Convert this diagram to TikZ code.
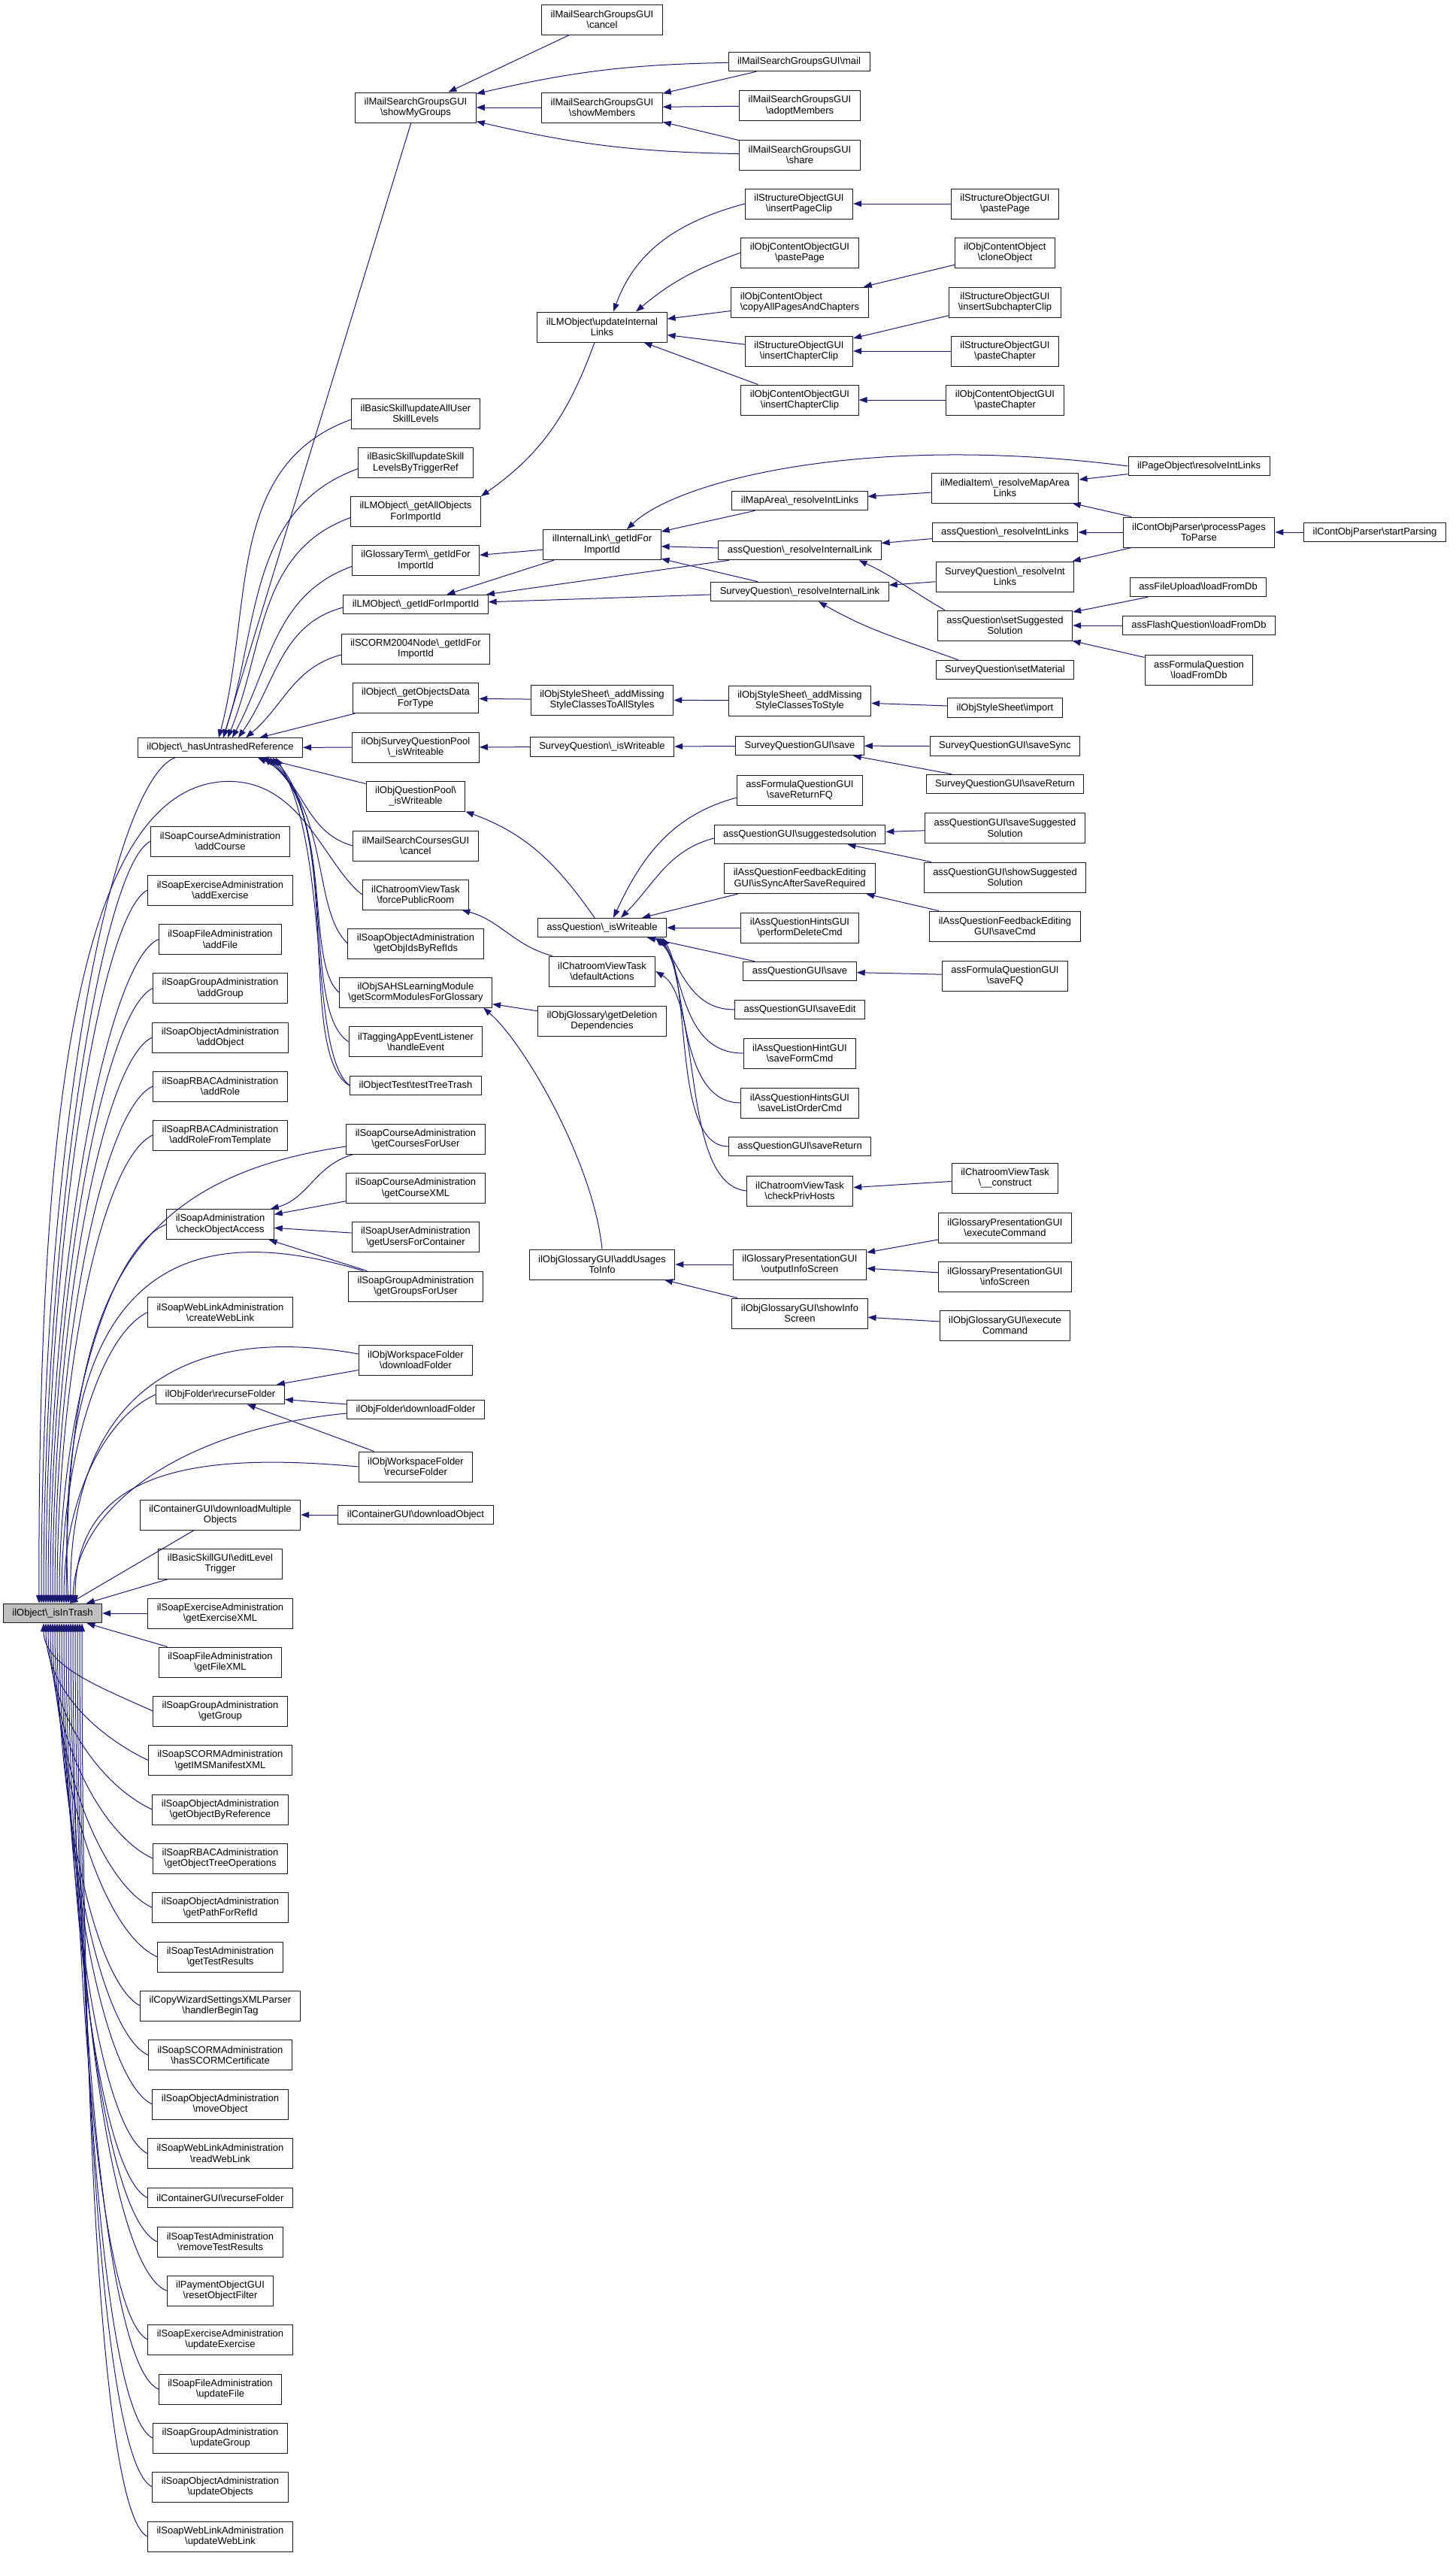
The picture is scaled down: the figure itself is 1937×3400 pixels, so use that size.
\documentclass[tikz,border=0pt]{standalone}
\usepackage{fontspec}
\setmainfont{Liberation Sans}
\usetikzlibrary{arrows.meta}
\definecolor{edgeblue}{HTML}{191970}
\definecolor{rootgray}{HTML}{BFBFBF}
\newcommand\bsl{\textbackslash}
\newcommand\nodefont{\fontsize{13}{14.5}\selectfont}
\newcommand\RootUp[4]{\draw[edge] ([xshift=#4pt]root.north) .. controls ({70+#4},{#3+0.5*(2133-#3)}) and ({#2-0.5*(#2-70)},{#3+30}) .. (#1.west);}
\newcommand\RootDown[4]{\draw[edge] ([xshift=#4pt]root.south) .. controls ({70+#4},{#3-0.5*(#3-2158)}) and ({#2-0.5*(#2-70)},{#3-30}) .. (#1.west);}
\tikzset{
  nb/.style={draw=black!90, line width=1pt, fill=white, align=center, inner xsep=12pt, inner ysep=2pt, font=\nodefont},
  n1/.style={nb, minimum height=25.5pt},
  n2/.style={nb, minimum height=40pt},
  edge/.style={draw=edgeblue, line width=1pt, {Triangle[length=11pt,width=8pt]}-},
}
\begin{document}
\begin{tikzpicture}[x=1pt,y=-1pt]
\useasboundingbox (0,0) rectangle (1937,3400);
% ---- column A
\node[n1, fill=rootgray] (root) at (70,2146) {ilObject\bsl\_isInTrash};
% ---- column B
\node[n1] (hu) at (293,994.5) {ilObject\bsl\_hasUntrashedReference};
\node[n2] (addCourse) at (293,1119) {ilSoapCourseAdministration\\\bsl addCourse};
\node[n2] (addExercise) at (293,1184) {ilSoapExerciseAdministration\\\bsl addExercise};
\node[n2] (addFile) at (293,1249.5) {ilSoapFileAdministration\\\bsl addFile};
\node[n2] (addGroup) at (293,1314.6) {ilSoapGroupAdministration\\\bsl addGroup};
\node[n2] (addObject) at (293,1380) {ilSoapObjectAdministration\\\bsl addObject};
\node[n2] (addRole) at (293,1445) {ilSoapRBACAdministration\\\bsl addRole};
\node[n2] (addRoleT) at (293,1510) {ilSoapRBACAdministration\\\bsl addRoleFromTemplate};
\node[n2] (coa) at (293,1628.6) {ilSoapAdministration\\\bsl checkObjectAccess};
\node[n2] (cwl) at (293,1745.7) {ilSoapWebLinkAdministration\\\bsl createWebLink};
\node[n1] (ofr) at (293,1855) {ilObjFolder\bsl recurseFolder};
\node[n2] (dmo) at (293,2015) {ilContainerGUI\bsl downloadMultiple\\Objects};
\node[n2] (elt) at (293,2080) {ilBasicSkillGUI\bsl editLevel\\Trigger};
\node[n2] (gex) at (293,2146) {ilSoapExerciseAdministration\\\bsl getExerciseXML};
\node[n2] (gfx) at (293,2211) {ilSoapFileAdministration\\\bsl getFileXML};
\node[n2] (ggr) at (293,2276) {ilSoapGroupAdministration\\\bsl getGroup};
\node[n2] (gims) at (293,2341.5) {ilSoapSCORMAdministration\\\bsl getIMSManifestXML};
\node[n2] (gobr) at (293,2407) {ilSoapObjectAdministration\\\bsl getObjectByReference};
\node[n2] (gotop) at (293,2472) {ilSoapRBACAdministration\\\bsl getObjectTreeOperations};
\node[n2] (gpfr) at (293,2537.5) {ilSoapObjectAdministration\\\bsl getPathForRefId};
\node[n2] (gtr) at (293,2603) {ilSoapTestAdministration\\\bsl getTestResults};
\node[n2] (hbt) at (293,2668) {ilCopyWizardSettingsXMLParser\\\bsl handlerBeginTag};
\node[n2] (hsc) at (293,2733.7) {ilSoapSCORMAdministration\\\bsl hasSCORMCertificate};
\node[n2] (mvo) at (293,2799) {ilSoapObjectAdministration\\\bsl moveObject};
\node[n2] (rwl) at (293,2864.5) {ilSoapWebLinkAdministration\\\bsl readWebLink};
\node[n1] (cgrf) at (293,2923.4) {ilContainerGUI\bsl recurseFolder};
\node[n2] (rtr) at (293,2982) {ilSoapTestAdministration\\\bsl removeTestResults};
\node[n2] (rof) at (293,3047) {ilPaymentObjectGUI\\\bsl resetObjectFilter};
\node[n2] (uex) at (293,3112) {ilSoapExerciseAdministration\\\bsl updateExercise};
\node[n2] (ufi) at (293,3178) {ilSoapFileAdministration\\\bsl updateFile};
\node[n2] (ugr) at (293,3243) {ilSoapGroupAdministration\\\bsl updateGroup};
\node[n2] (uob) at (293,3308) {ilSoapObjectAdministration\\\bsl updateObjects};
\node[n2] (uwl) at (293,3374) {ilSoapWebLinkAdministration\\\bsl updateWebLink};
% ---- column C
\node[n2] (smg) at (553,143) {ilMailSearchGroupsGUI\\\bsl showMyGroups};
\node[n2] (uausl) at (553,550) {ilBasicSkill\bsl updateAllUser\\SkillLevels};
\node[n2] (uslt) at (553,615.5) {ilBasicSkill\bsl updateSkill\\LevelsByTriggerRef};
\node[n2] (gaofi) at (553,680.6) {ilLMObject\bsl\_getAllObjects\\ForImportId};
\node[n2] (gtid) at (553,745.5) {ilGlossaryTerm\bsl\_getIdFor\\ImportId};
\node[n1] (lmid) at (553,804) {ilLMObject\bsl\_getIdForImportId};
\node[n2] (scid) at (553,863) {ilSCORM2004Node\bsl\_getIdFor\\ImportId};
\node[n2] (godt) at (553,928.6) {ilObject\bsl\_getObjectsData\\ForType};
\node[n2] (osqp) at (553,994) {ilObjSurveyQuestionPool\\\bsl\_isWriteable};
\node[n2] (oqp) at (553,1059) {ilObjQuestionPool\bsl\\\_isWriteable};
\node[n2] (mscc) at (553,1125) {ilMailSearchCoursesGUI\\\bsl cancel};
\node[n2] (fpr) at (553,1190) {ilChatroomViewTask\\\bsl forcePublicRoom};
\node[n2] (goibr) at (553,1255) {ilSoapObjectAdministration\\\bsl getObjIdsByRefIds};
\node[n2] (gsmg) at (553,1320) {ilObjSAHSLearningModule\\\bsl getScormModulesForGlossary};
\node[n2] (tahe) at (553,1385.6) {ilTaggingAppEventListener\\\bsl handleEvent};
\node[n1] (ttt) at (553,1444) {ilObjectTest\bsl testTreeTrash};
\node[n2] (gcfu) at (553,1515) {ilSoapCourseAdministration\\\bsl getCoursesForUser};
\node[n2] (gcx) at (553,1580.6) {ilSoapCourseAdministration\\\bsl getCourseXML};
\node[n2] (gufc) at (553,1645.6) {ilSoapUserAdministration\\\bsl getUsersForContainer};
\node[n2] (ggfu) at (553,1711) {ilSoapGroupAdministration\\\bsl getGroupsForUser};
\node[n2] (wsdf) at (553,1809) {ilObjWorkspaceFolder\\\bsl downloadFolder};
\node[n1] (ofdf) at (553,1875) {ilObjFolder\bsl downloadFolder};
\node[n2] (wsrf) at (553,1951) {ilObjWorkspaceFolder\\\bsl recurseFolder};
\node[n1] (cgdo) at (553,2015) {ilContainerGUI\bsl downloadObject};
% ---- column D
\node[n2] (msgc) at (801,26) {ilMailSearchGroupsGUI\\\bsl cancel};
\node[n2] (smem) at (801,143) {ilMailSearchGroupsGUI\\\bsl showMembers};
\node[n2] (uil) at (801,435) {ilLMObject\bsl updateInternal\\Links};
\node[n2] (ilid) at (801,724.6) {ilInternalLink\bsl\_getIdFor\\ImportId};
\node[n2] (amsas) at (801,931) {ilObjStyleSheet\bsl\_addMissing\\StyleClassesToAllStyles};
\node[n1] (sqiw) at (801,993.5) {SurveyQuestion\bsl\_isWriteable};
\node[n1] (aqiw) at (801,1234) {assQuestion\bsl\_isWriteable};
\node[n2] (cda) at (801,1292) {ilChatroomViewTask\\\bsl defaultActions};
\node[n2] (ogdd) at (801,1358) {ilObjGlossary\bsl getDeletion\\Dependencies};
\node[n2] (auti) at (801,1682) {ilObjGlossaryGUI\bsl addUsages\\ToInfo};
% ---- column E
\node[n1] (mail) at (1063,82) {ilMailSearchGroupsGUI\bsl mail};
\node[n2] (adm) at (1064,140.5) {ilMailSearchGroupsGUI\\\bsl adoptMembers};
\node[n2] (share) at (1064,206) {ilMailSearchGroupsGUI\\\bsl share};
\node[n2] (ipc) at (1063,271) {ilStructureObjectGUI\\\bsl insertPageClip};
\node[n2] (ocopp) at (1064,336) {ilObjContentObjectGUI\\\bsl pastePage};
\node[n2, align=left] (capc) at (1064,402) {ilObjContentObject\\\bsl copyAllPagesAndChapters};
\node[n2] (socc) at (1063,467) {ilStructureObjectGUI\\\bsl insertChapterClip};
\node[n2] (ococc) at (1064,532) {ilObjContentObjectGUI\\\bsl insertChapterClip};
\node[n1] (mari) at (1064,666) {ilMapArea\bsl\_resolveIntLinks};
\node[n1] (aqril) at (1064,732) {assQuestion\bsl\_resolveInternalLink};
\node[n1] (sqril) at (1064,787) {SurveyQuestion\bsl\_resolveInternalLink};
\node[n2] (amss) at (1064,932) {ilObjStyleSheet\bsl\_addMissing\\StyleClassesToStyle};
\node[n1] (sqgs) at (1064,992) {SurveyQuestionGUI\bsl save};
\node[n2] (srfq) at (1064,1051) {assFormulaQuestionGUI\\\bsl saveReturnFQ};
\node[n1] (qss) at (1064,1110) {assQuestionGUI\bsl suggestedsolution};
\node[n2] (issr) at (1064,1168.6) {ilAssQuestionFeedbackEditing\\GUI\bsl isSyncAfterSaveRequired};
\node[n2] (pdc) at (1064,1234) {ilAssQuestionHintsGUI\\\bsl performDeleteCmd};
\node[n1] (qgs) at (1064,1292) {assQuestionGUI\bsl save};
\node[n1] (qse) at (1064,1343) {assQuestionGUI\bsl saveEdit};
\node[n2] (sfc) at (1064,1401) {ilAssQuestionHintGUI\\\bsl saveFormCmd};
\node[n2] (sloc) at (1064,1467) {ilAssQuestionHintsGUI\\\bsl saveListOrderCmd};
\node[n1] (qsr) at (1064,1525) {assQuestionGUI\bsl saveReturn};
\node[n2] (cph) at (1064,1584) {ilChatroomViewTask\\\bsl checkPrivHosts};
\node[n2] (ois) at (1064,1682) {ilGlossaryPresentationGUI\\\bsl outputInfoScreen};
\node[n2] (sis) at (1064,1747) {ilObjGlossaryGUI\bsl showInfo\\Screen};
% ---- column F
\node[n2] (sopp) at (1337,271) {ilStructureObjectGUI\\\bsl pastePage};
\node[n2] (clo) at (1337,336) {ilObjContentObject\\\bsl cloneObject};
\node[n2] (isc) at (1337,402) {ilStructureObjectGUI\\\bsl insertSubchapterClip};
\node[n2] (sopc) at (1337,467) {ilStructureObjectGUI\\\bsl pasteChapter};
\node[n2] (ocopc) at (1337,532) {ilObjContentObjectGUI\\\bsl pasteChapter};
\node[n2] (mirl) at (1337,649) {ilMediaItem\bsl\_resolveMapArea\\Links};
\node[n1] (aqrl) at (1337,708) {assQuestion\bsl\_resolveIntLinks};
\node[n2] (sqrl) at (1337,767) {SurveyQuestion\bsl\_resolveInt\\Links};
\node[n2] (sss) at (1337,832) {assQuestion\bsl setSuggested\\Solution};
\node[n1] (sqsm) at (1337,891) {SurveyQuestion\bsl setMaterial};
\node[n1] (ossi) at (1337,941.7) {ilObjStyleSheet\bsl import};
\node[n1] (sqss) at (1337,992.6) {SurveyQuestionGUI\bsl saveSync};
\node[n1] (sqsr) at (1337,1043) {SurveyQuestionGUI\bsl saveReturn};
\node[n2] (qsss) at (1337,1101.5) {assQuestionGUI\bsl saveSuggested\\Solution};
\node[n2] (qshs) at (1337,1167) {assQuestionGUI\bsl showSuggested\\Solution};
\node[n2] (fsc) at (1337,1232) {ilAssQuestionFeedbackEditing\\GUI\bsl saveCmd};
\node[n2] (sfq) at (1337,1298) {assFormulaQuestionGUI\\\bsl saveFQ};
\node[n2] (cvc) at (1337,1567) {ilChatroomViewTask\\\bsl\_\_construct};
\node[n2] (gpec) at (1337,1633) {ilGlossaryPresentationGUI\\\bsl executeCommand};
\node[n2] (gpis) at (1337,1698) {ilGlossaryPresentationGUI\\\bsl infoScreen};
\node[n2] (ogec) at (1337,1763) {ilObjGlossaryGUI\bsl execute\\Command};
% ---- column G, H
\node[n1] (porl) at (1595,620) {ilPageObject\bsl resolveIntLinks};
\node[n2] (ppp) at (1595,708) {ilContObjParser\bsl processPages\\ToParse};
\node[n1] (fulfd) at (1594,781) {assFileUpload\bsl loadFromDb};
\node[n1] (fqlfd) at (1595,832) {assFlashQuestion\bsl loadFromDb};
\node[n2] (foqlfd) at (1595,891) {assFormulaQuestion\\\bsl loadFromDb};
\node[n1] (sp) at (1829,708) {ilContObjParser\bsl startParsing};

% ================= edges
% root: callers above
\draw[edge] ([xshift=-15pt]root.north) .. controls (55,1500) and (150,1040) .. ([xshift=50pt]hu.south west);
\draw[edge] ([xshift=-18pt]root.north) .. controls (50,1500) and (100,1060) .. (292,1040) .. controls (400,1030) and (430,1150) .. (fpr.west);
\RootUp{addCourse}{202}{1119}{-12}
\RootUp{addExercise}{197}{1184}{-9}
\RootUp{addFile}{212}{1249}{-6}
\RootUp{addGroup}{205}{1315}{-3}
\RootUp{addObject}{203}{1380}{0}
\RootUp{addRole}{203}{1445}{3}
\RootUp{addRoleT}{203}{1510}{6}
\RootUp{coa}{221}{1629}{9}
\RootUp{cwl}{197}{1746}{12}
\RootUp{ofr}{209}{1855}{15}
\draw[edge] ([xshift=18pt]root.north) .. controls (90,1750) and (150,1570) .. ([yshift=-10pt]gcfu.west);
\draw[edge] ([xshift=21pt]root.north) .. controls (70,1680) and (250,1620) .. ([xshift=20pt]ggfu.north west);
\draw[edge] ([xshift=24pt]root.north) .. controls (90,1850) and (250,1760) .. ([yshift=8pt]wsdf.west);
\draw[edge] ([xshift=27pt]root.north) .. controls (100,2000) and (250,1900) .. ([yshift=-5pt]ofdf.west);
\draw[edge] ([xshift=30pt]root.north) .. controls (100,1960) and (250,1930) .. (wsrf.west);
\draw[edge] (root) -- (dmo);
\draw[edge] (root) -- (elt);
\draw[edge] (root) -- (gex);
\draw[edge] (root) -- (gfx);
% root: callers below
\RootDown{ggr}{205}{2276}{-12}
\RootDown{gims}{197}{2341}{-9}
\RootDown{gobr}{204}{2407}{-6}
\RootDown{gotop}{204}{2472}{-3}
\RootDown{gpfr}{204}{2537}{0}
\RootDown{gtr}{209}{2603}{3}
\RootDown{hbt}{187}{2668}{6}
\RootDown{hsc}{197}{2734}{9}
\RootDown{mvo}{204}{2799}{12}
\RootDown{rwl}{197}{2864}{15}
\RootDown{cgrf}{197}{2923}{18}
\RootDown{rtr}{209}{2982}{21}
\RootDown{rof}{221}{3047}{24}
\RootDown{uex}{197}{3112}{27}
\RootDown{ufi}{212}{3178}{30}
\RootDown{ugr}{205}{3243}{33}
\RootDown{uob}{204}{3308}{36}
\RootDown{uwl}{197}{3374}{39}
% hasUntrashedReference
\draw[edge] (hu) -- (smg);
\draw[edge] ([xshift=-2pt]hu.north) to[out=75,in=200] ([yshift=-8pt]uausl.west);
\draw[edge] ([xshift=4pt]hu.north) to[out=72,in=200] ([yshift=-8pt]uslt.west);
\draw[edge] ([xshift=10pt]hu.north) to[out=68,in=200] ([yshift=-8pt]gaofi.west);
\draw[edge] ([xshift=16pt]hu.north) to[out=62,in=200] ([yshift=-8pt]gtid.west);
\draw[edge] ([xshift=24pt]hu.north) to[out=55,in=195] ([yshift=-4pt]lmid.west);
\draw[edge] ([xshift=34pt]hu.north) to[out=40,in=195] ([yshift=-8pt]scid.west);
\draw[edge] (hu) -- (godt);
\draw[edge] (hu) -- (osqp);
\draw[edge] (hu) -- (oqp);
\draw[edge] ([xshift=50pt]hu.south) to[out=-25,in=165] (mscc.west);
\draw[edge] ([xshift=58pt]hu.south) .. controls (440,1080) and (415,1210) .. (goibr.west);
\draw[edge] ([xshift=62pt]hu.south) .. controls (445,1090) and (405,1280) .. (gsmg.west);
\draw[edge] ([xshift=66pt]hu.south) .. controls (450,1100) and (400,1345) .. (tahe.west);
\draw[edge] ([xshift=70pt]hu.south) .. controls (455,1110) and (395,1405) .. (ttt.west);
\draw[edge] ([xshift=74pt]hu.south) .. controls (440,1130) and (410,1400) .. (ttt.west);
% mail search groups
\draw[edge] (smg) -- (msgc);
\draw[edge] (smg) to[bend left=6] (mail);
\draw[edge] (smg) -- (smem);
\draw[edge] (smg) to[bend right=6] (share);
\draw[edge] (smem) -- (mail);
\draw[edge] (smem) -- (adm);
\draw[edge] (smem) -- (share);
% internal links
\draw[edge] ([xshift=15pt]uil.north) to[out=70,in=195] (ipc.west);
\draw[edge] ([xshift=45pt]uil.north) to[out=40,in=200] (ocopp.west);
\draw[edge] (uil) -- (capc);
\draw[edge] (uil) -- (socc);
\draw[edge] (uil) -- (ococc);
\draw[edge] (ipc) -- (sopp);
\draw[edge] (capc) -- (clo);
\draw[edge] (socc) -- (isc);
\draw[edge] (socc) -- (sopc);
\draw[edge] (ococc) -- (ocopc);
\draw[edge] (gaofi.north east) to[out=35,in=-110] ([xshift=-10pt]uil.south);
\draw[edge] (gtid) -- (ilid);
\draw[edge] (lmid) -- (ilid);
\draw[edge] (lmid) -- (aqril);
\draw[edge] (lmid) -- (sqril);
\draw[edge] ([xshift=33pt]ilid.north) .. controls (900,640) and (1150,575) .. (porl.west);
\draw[edge] (ilid) -- (mari);
\draw[edge] (ilid) -- (aqril);
\draw[edge] (ilid) -- (sqril);
\draw[edge] (mari) -- (mirl);
\draw[edge] (mirl) -- (porl);
\draw[edge] (mirl) -- (ppp);
\draw[edge] (aqril) -- (aqrl);
\draw[edge] ([xshift=-30pt]aqril.south east) to[out=-25,in=150] ([xshift=10pt]sss.north west);
\draw[edge] (aqrl) -- (ppp);
\draw[edge] (sqrl) -- (ppp);
\draw[edge] (sqril) -- (sqrl);
\draw[edge] ([xshift=25pt]sqril.south) to[out=-30,in=160] ([xshift=30pt]sqsm.north west);
\draw[edge] (ppp) -- (sp);
\draw[edge] (sss) -- (fulfd);
\draw[edge] (sss) -- (fqlfd);
\draw[edge] (sss) -- (foqlfd);
% style sheets
\draw[edge] (godt) -- (amsas);
\draw[edge] (amsas) -- (amss);
\draw[edge] (amss) -- (ossi);
% survey
\draw[edge] (osqp) -- (sqiw);
\draw[edge] (sqiw) -- (sqgs);
\draw[edge] (sqgs) -- (sqss);
\draw[edge] (sqgs) -- (sqsr);
% assQuestion isWriteable
\draw[edge] (oqp.south east) to[out=-20,in=125] ([xshift=-10pt]aqiw.north);
\draw[edge] ([xshift=15pt]aqiw.north) to[out=65,in=195] ([yshift=-10pt]srfq.west);
\draw[edge] ([xshift=25pt]aqiw.north) to[out=45,in=195] ([yshift=-5pt]qss.west);
\draw[edge] (aqiw) -- (issr);
\draw[edge] (aqiw) -- (pdc);
\draw[edge] (aqiw) -- (qgs);
\draw[edge] ([xshift=-15pt]aqiw.south east) .. controls (905,1280) and (915,1343) .. (qse.west);
\draw[edge] ([xshift=-12pt]aqiw.south east) .. controls (910,1290) and (905,1401) .. (sfc.west);
\draw[edge] ([xshift=-9pt]aqiw.south east) .. controls (915,1300) and (900,1467) .. (sloc.west);
\draw[edge] ([xshift=-6pt]aqiw.south east) .. controls (920,1310) and (895,1525) .. (qsr.west);
\draw[edge] (qss) -- (qsss);
\draw[edge] (qss) -- (qshs);
\draw[edge] (issr) -- (fsc);
\draw[edge] (qgs) -- (sfq);
% chatroom
\draw[edge] ([xshift=-10pt]fpr.south east) to[out=-15,in=165] ([xshift=5pt]cda.north west);
\draw[edge] (cda.east) .. controls (935,1330) and (905,1575) .. (cph.west);
\draw[edge] (cph) -- (cvc);
% glossary
\draw[edge] (gsmg) -- (ogdd);
\draw[edge] ([xshift=-12pt]gsmg.south east) .. controls (700,1390) and (790,1550) .. (auti.north);
\draw[edge] (auti) -- (ois);
\draw[edge] (auti) -- (sis);
\draw[edge] (ois) -- (gpec);
\draw[edge] (ois) -- (gpis);
\draw[edge] (sis) -- (ogec);
% soap check access
\draw[edge] ([xshift=-5pt]coa.north east) to[out=15,in=195] ([xshift=10pt]gcfu.south west);
\draw[edge] (coa) -- (gcx);
\draw[edge] (coa) -- (gufc);
\draw[edge] (coa) -- (ggfu);
% folders
\draw[edge] (ofr) -- (wsdf);
\draw[edge] (ofr) -- (ofdf);
\draw[edge] (ofr) -- (wsrf);
\draw[edge] (dmo) -- (cgdo);
\end{tikzpicture}
\end{document}
